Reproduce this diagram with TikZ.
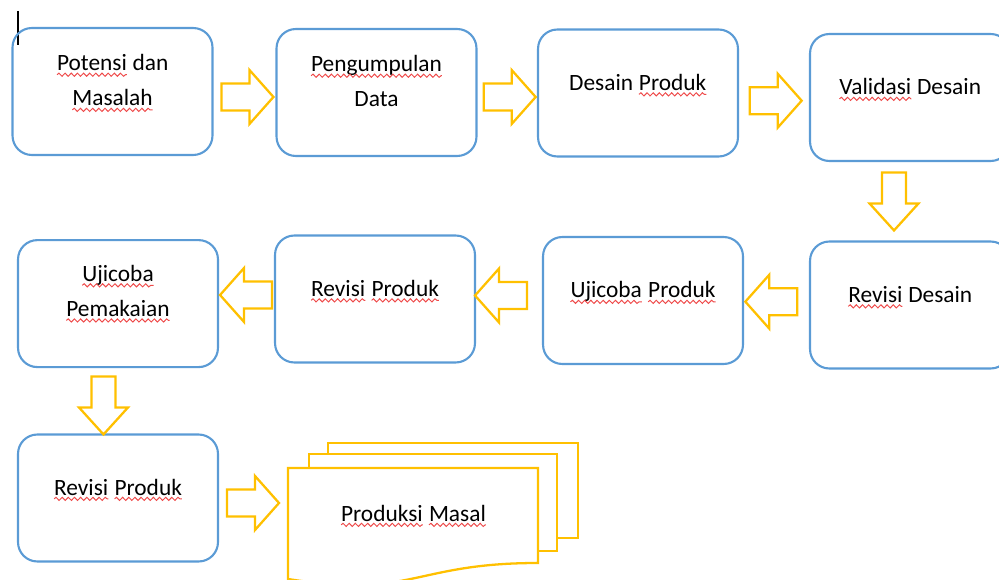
\documentclass[tikz,border=0pt]{standalone}
\usepackage{fontspec}
\setmainfont{Carlito}
\usetikzlibrary{calc}
\usetikzlibrary{decorations.pathmorphing}
\definecolor{boxblue}{HTML}{5B9BD5}
\definecolor{arrgold}{HTML}{FFC000}
\definecolor{squigred}{HTML}{EE4A4A}
\newcommand{\sq}[1]{\tikz[baseline=(w.base)]{\node[inner sep=0pt,outer sep=0pt,draw=none,anchor=base,minimum width=0pt,minimum height=0pt] (w) {#1};
	\draw[squigred,line width=0.55pt,decorate,decoration={snake,amplitude=0.9pt,segment length=3.5pt}] ([yshift=-2.2pt]w.base west) -- ([yshift=-2.2pt]w.base east);}}
\tikzset{
	box/.style={draw=boxblue,line width=1.2pt,rounded corners=11pt,minimum width=4cm,minimum height=2.54cm,inner sep=0pt},
	txt/.style={font=\fontsize{13.3}{20}\selectfont,align=center,inner sep=0pt,anchor=base},
	arrline/.style={draw=arrgold,line width=1.3pt,fill=white,line join=miter},
	pics/rarrow/.style={code={\draw[arrline] (0,0) -- (-24,-27) -- (-24,-13.5) -- (-52,-13.5) -- (-52,13.5) -- (-24,13.5) -- (-24,27) -- cycle;}},
	pics/darrow/.style={code={\draw[arrline] (0,0) -- (-24.5,-27) -- (-12,-27) -- (-12,-58) -- (12,-58) -- (12,-27) -- (24.5,-27) -- cycle;}}
}

\begin{document}
\begin{tikzpicture}[x=0.02cm,y=-0.02cm]
	\useasboundingbox (0,0) rectangle (999,580);
	\clip (0,0) rectangle (999,580);
	\draw[line width=0.6pt] (18,11) -- (18,45);
	% first row
	\node[box] (b1) at (112.5,91.5) {};
	\node[box] (b2) at (376.5,92.5) {};
	\node[box] (b3) at (638,93) {};
	\node[box] (b4) at (910,97.5) {};
	\node[txt] (t1) at ($(b1.center)+(0,14.5)$) {\sq{Potensi} dan\\\sq{Masalah}};
	\node[txt] (t2) at ($(b2.center)+(0,14.5)$) {\sq{Pengumpulan}\\Data};
	\node[txt] (t3) at ($(b3.center)+(0,-2.5)$) {Desain \sq{Produk}};
	\node[txt] (t4) at ($(b4.center)+(0,-2.5)$) {\sq{Validasi} Desain};
	% second row
	\node[box] (b5) at (910,305) {};
	\node[box] (b6) at (643,300.5) {};
	\node[box] (b7) at (375,299) {};
	\node[box] (b8) at (118,303.6) {};
	\node[txt] (t5) at ($(b5.center)+(0,-2.5)$) {\sq{Revisi} Desain};
	\node[txt] (t6) at ($(b6.center)+(0,-2.5)$) {\sq{Ujicoba} \sq{Produk}};
	\node[txt] (t7) at ($(b7.center)+(0,-2.5)$) {\sq{Revisi} \sq{Produk}};
	\node[txt] (t8) at ($(b8.center)+(0,13)$) {\sq{Ujicoba}\\\sq{Pemakaian}};
	% third row
	\node[box] (b9) at (118,498) {};
	\node[txt] (t9) at ($(b9.center)+(0,-3)$) {\sq{Revisi} \sq{Produk}};
	\draw[arrline] (328,443) rectangle (578,538);
	\draw[arrline] (309,454) rectangle (557,551);
	\draw[arrline] (288,468) -- (538,468) -- (538,563) .. controls (413,563) and (413,599) .. (288,579) -- cycle;
	\coordinate (doc) at (288,503);
	\node[txt] (t10) at (413.5,521) {\sq{Produksi} \sq{Masal}};
	% block arrows
	\pic at ($(b2.west)+(-2,4.5)$) {rarrow};
	\pic at ($(b3.west)+(-1.3,4)$) {rarrow};
	\pic at ($(b4.west)+(-7.3,3.2)$) {rarrow};
	\pic at ($(b5.north)+(-16,-10)$) {darrow};
	\pic[rotate=180] at ($(b6.east)+(1.3,1.2)$) {rarrow};
	\pic[rotate=180] at ($(b7.east)+(-1,-3.5)$) {rarrow};
	\pic[rotate=180] at ($(b8.east)+(1,-8.6)$) {rarrow};
	\pic at ($(b9.north)+(-14.5,1)$) {darrow};
	\pic at ($(doc)+(-9,0)$) {rarrow};
\end{tikzpicture}
\end{document}
